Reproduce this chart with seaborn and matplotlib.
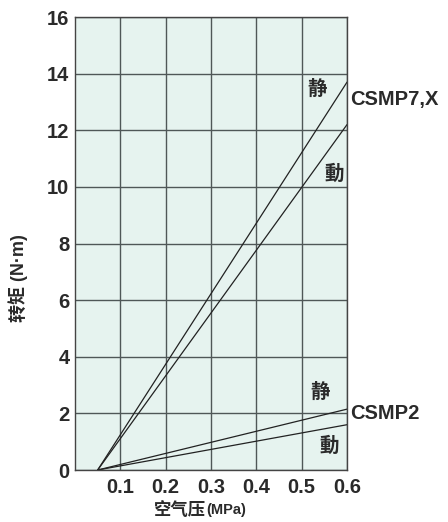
import matplotlib
matplotlib.use("Agg")
import matplotlib.pyplot as plt
import numpy as np
import pandas as pd
import seaborn as sns

# data
pressure = [0.05, 0.6]
csmp7_static = [0.0, 13.7]
csmp7_dynamic = [0.0, 12.2]
csmp2_static = [0.0, 2.15]
csmp2_dynamic = [0.0, 1.6]

x_ticks = [0.1, 0.2, 0.3, 0.4, 0.5, 0.6]
y_ticks = [0, 2, 4, 6, 8, 10, 12, 14, 16]

sns.set_style("white")
plt.rcParams["font.family"] = ["Liberation Sans", "Noto Sans CJK SC", "DejaVu Sans"]
CJK = ["Noto Sans CJK SC", "DejaVu Sans"]
TXT = "#2a2a2a"

rows = []
for name, vals in [("CSMP7_static", csmp7_static), ("CSMP7_dynamic", csmp7_dynamic),
                   ("CSMP2_static", csmp2_static), ("CSMP2_dynamic", csmp2_dynamic)]:
    for p, t in zip(pressure, vals):
        rows.append({"series": name, "pressure": p, "torque": t})
df = pd.DataFrame(rows)

fig = plt.figure(figsize=(4.48, 5.22), dpi=100)
ax = fig.add_axes([0.1674, 0.0996, 0.6072, 0.8678])
ax.set_facecolor("#e6f3ef")

sns.lineplot(data=df, x="pressure", y="torque", units="series", estimator=None,
             color="#222222", linewidth=0.9, ax=ax, legend=False)

ax.set_xlim(0, 0.6)
ax.set_ylim(0, 16)
ax.set_xticks(x_ticks)
ax.set_yticks(y_ticks)
ax.set_xticklabels([f"{v:.1f}" for v in x_ticks], fontsize=14.5, fontweight="bold", color=TXT)
ax.set_yticklabels([str(v) for v in y_ticks], fontsize=14.5, fontweight="bold", color=TXT)
ax.tick_params(axis="y", length=0, pad=4)
ax.tick_params(axis="x", length=0, pad=6)
ax.grid(True, color="#4f5757", linewidth=1.0)
for s in ax.spines.values():
    s.set_color("#444444")
    s.set_linewidth(1.0)

ax.set_xlabel("")
ax.set_ylabel("")
fig.text(0.46, 0.006, "空气压", family=CJK, fontsize=12.5, fontweight="bold",
         ha="right", va="bottom", color=TXT)
fig.text(0.46, 0.010, "(MPa)", fontsize=10.5, fontweight="bold",
         ha="left", va="bottom", color=TXT)
fig.text(0.04, 0.467, "转矩 (N·m)", fontsize=13, fontweight="bold",
         rotation=90, ha="center", va="center", color=TXT)

# curve annotations
for xx, yy, s in [(0.535, 13.45, "静"), (0.571, 10.45, "動"),
                  (0.541, 2.75, "静"), (0.561, 0.85, "動")]:
    ax.text(xx, yy, s, family=CJK, fontsize=14, fontweight="bold",
            ha="center", va="center", color=TXT)
ax.text(0.607, 13.1, "CSMP7,X", fontsize=14.5, fontweight="bold", ha="left", va="center",
        color=TXT, clip_on=False)
ax.text(0.607, 2.0, "CSMP2", fontsize=14.5, fontweight="bold", ha="left", va="center",
        color=TXT, clip_on=False)

fig.savefig("out.png", dpi=100)
